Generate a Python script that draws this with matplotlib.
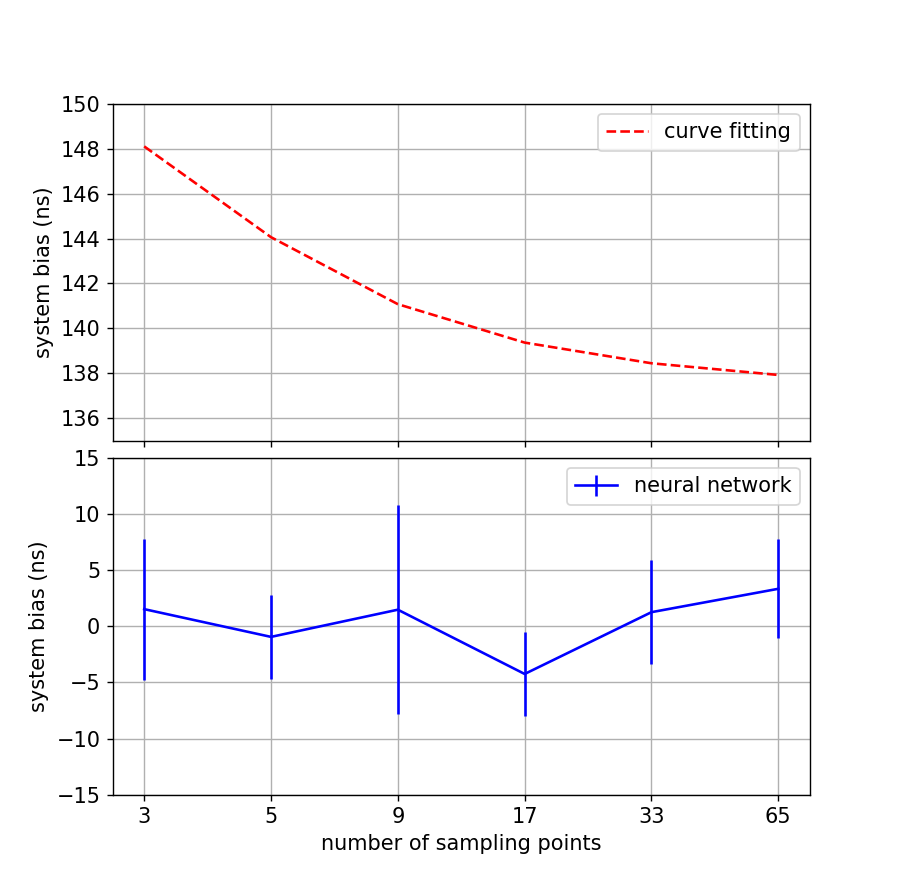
import matplotlib
matplotlib.use("Agg")
import matplotlib.pyplot as plt
import numpy as np

sampling_points = ["3", "5", "9", "17", "33", "65"]
curve_fitting = [148.10, 144.06, 141.08, 139.37, 138.45, 137.93]
nn_mean = [1.52, -0.95, 1.47, -4.25, 1.25, 3.33]
nn_err = [6.28, 3.75, 9.30, 3.72, 4.64, 4.40]

plt.rcParams['font.size'] = 12

x = np.arange(len(sampling_points))

fig, (ax1, ax2) = plt.subplots(2, 1, sharex=True, figsize=(7.2, 7.152), dpi=125)
fig.subplots_adjust(left=0.125, right=0.9, top=0.884, bottom=0.111, hspace=0.05)

ax1.plot(x, curve_fitting, 'r--', label='curve fitting')
ax1.set_ylim(135, 150)
ax1.set_ylabel('system bias (ns)')
ax1.grid(True)
ax1.legend(loc='upper right')

ax2.errorbar(x, nn_mean, yerr=nn_err, color='b', label='neural network')
ax2.set_ylim(-15, 15)
ax2.set_ylabel('system bias (ns)')
ax2.set_xlabel('number of sampling points')
ax2.set_xticks(x)
ax2.set_xticklabels(sampling_points)
ax2.grid(True)
ax2.legend(loc='upper right')

fig.savefig('out.png', dpi=125)
